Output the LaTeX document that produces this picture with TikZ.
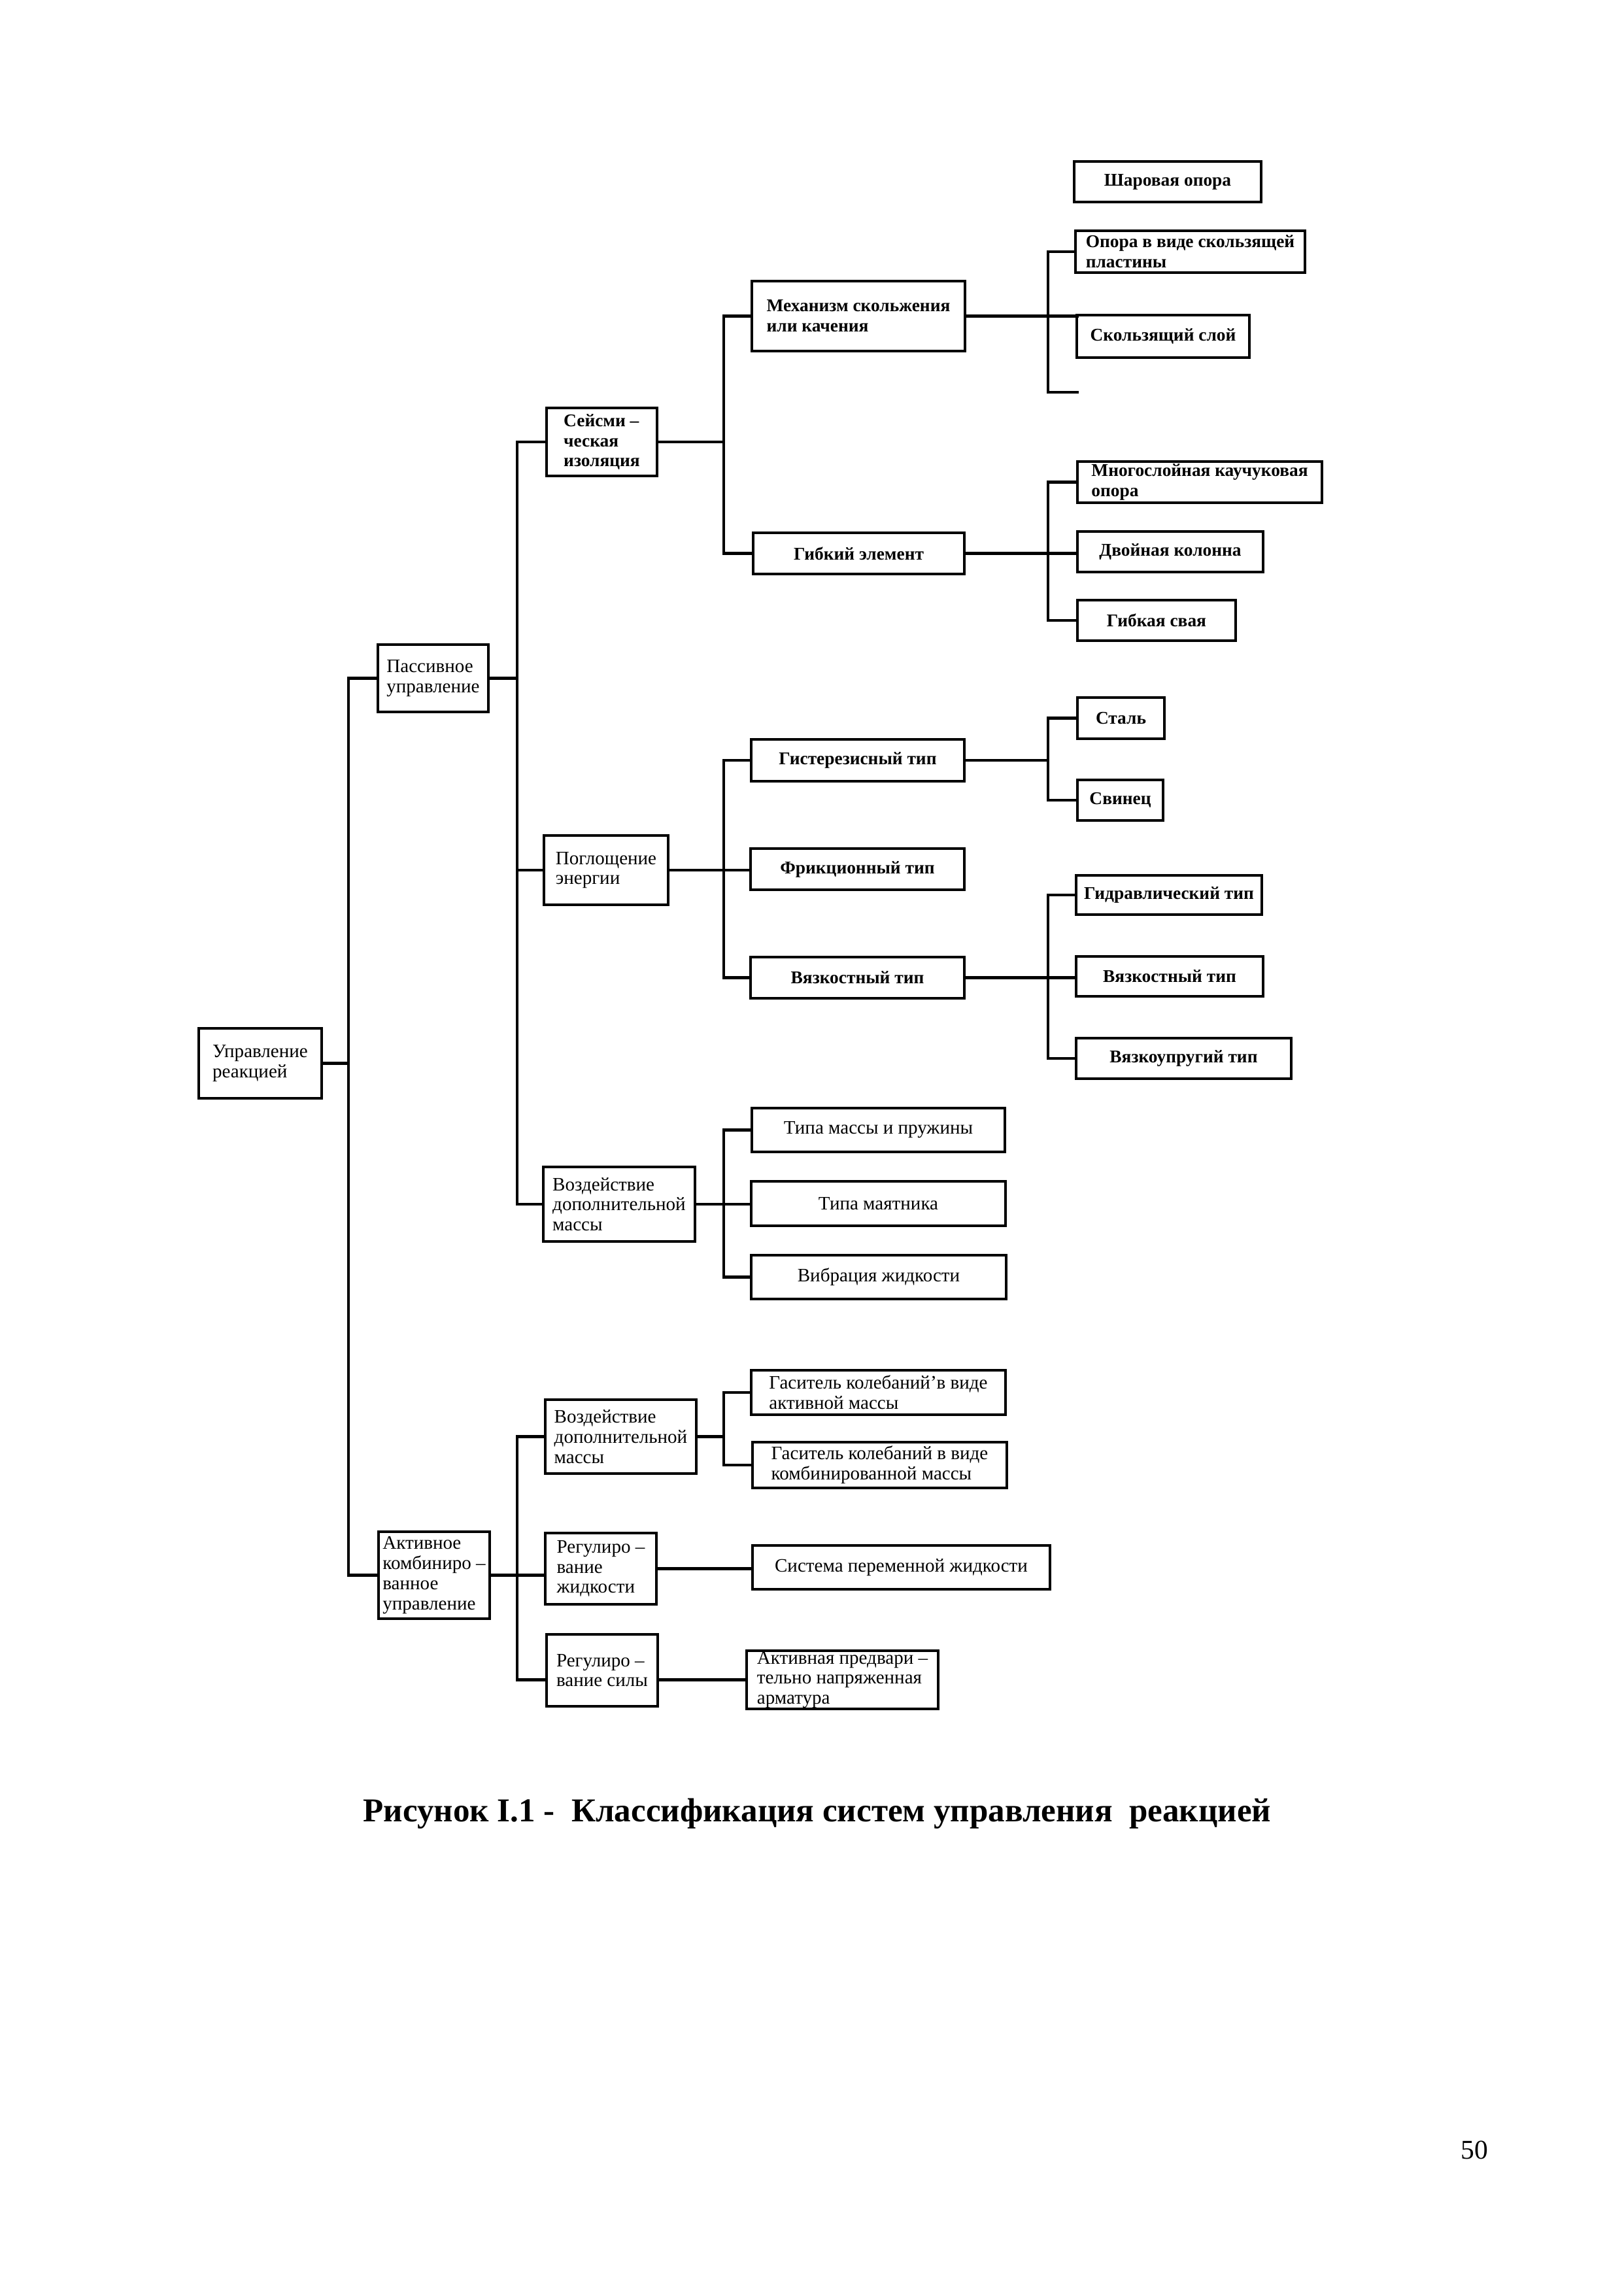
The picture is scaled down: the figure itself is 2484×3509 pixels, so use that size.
\documentclass[tikz,border=0pt]{standalone}
\usepackage{fontspec}
\setmainfont{Liberation Serif}

\begin{document}
\begin{tikzpicture}[x=0.0846667mm,y=-0.0846667mm,
        cell/.style n args={4}{at={({(#1+#3)/2},{(#2+#4)/2})},
            minimum width={(#3-#1)*0.0846667mm},minimum height={(#4-#2)*0.0846667mm}},
        blk/.style={draw,line width=1.1pt,inner sep=0pt,align=left,font=\fontsize{7}{7.4}\selectfont},
        blkb/.style={blk,font=\bfseries\fontsize{6.6}{7.4}\selectfont},
        ln/.style={line width=1.1pt}]
        \useasboundingbox (0,0) rectangle (2484,3509);

        \coordinate (b0) at (533,0);
        \coordinate (b1) at (791,0);
        \coordinate (b2) at (1107,0);
        \coordinate (b3) at (1603,0);
        \coordinate (mechEnd) at (1650,470);
        \coordinate (mechBot) at (1650,600);

        \node[blk,cell={304}{1573}{492}{1680}] (root) {Управление\\реакцией};
        \node[blk,cell={578}{986}{747}{1089}] (pass) {Пассивное\\управление};
        \node[blk,cell={579}{2343}{749}{2476}] (akt) {Активное\\комбиниро –\\ванное\\управление};

        \node[blkb,cell={836}{624}{1005}{728}] (seism) {Сейсми –\\ческая\\изоляция};
        \node[blk,cell={832}{1278}{1022}{1384}] (pogl) {Поглощение\\энергии};
        \node[blk,cell={831}{1785}{1063}{1899}] (vozd) {Воздействие\\дополнительной\\массы};

        \node[blkb,cell={1150}{430}{1476}{537}] (mech) {Механизм скольжения\\или качения};
        \node[blkb,cell={1152}{815}{1475}{878}] (gibel) {Гибкий элемент};
        \node[blkb,cell={1643}{247}{1929}{309}] (shar) {Шаровая опора};
        \node[blkb,cell={1645}{353}{1996}{417}] (oporas) {Опора в виде скользящей\\пластины};
        \node[blkb,cell={1647}{482}{1911}{547}] (slide) {Скользящий слой};
        \node[blkb,cell={1648}{706}{2022}{769}] (mnogo) {Многослойная каучуковая\\опора};
        \node[blkb,cell={1648}{813}{1932}{875}] (dvoin) {Двойная колонна};
        \node[blkb,cell={1648}{918}{1890}{980}] (gsvaya) {Гибкая свая};

        \node[blkb,cell={1149}{1131}{1475}{1195}] (gist) {Гистерезисный тип};
        \node[blkb,cell={1148}{1298}{1475}{1361}] (frik) {Фрикционный тип};
        \node[blkb,cell={1148}{1464}{1475}{1527}] (vyaz) {Вязкостный тип};
        \node[blkb,cell={1648}{1067}{1781}{1130}] (stal) {Сталь};
        \node[blkb,cell={1648}{1193}{1779}{1255}] (svin) {Свинец};
        \node[blkb,cell={1646}{1339}{1930}{1399}] (gidr) {Гидравлический тип};
        \node[blkb,cell={1646}{1463}{1932}{1524}] (vyazb) {Вязкостный тип};
        \node[blkb,cell={1646}{1588}{1975}{1650}] (vupr) {Вязкоупругий тип};

        \node[blk,cell={1150}{1695}{1537}{1762}] (tmass) {Типа массы и пружины};
        \node[blk,cell={1149}{1807}{1538}{1875}] (tmayat) {Типа маятника};
        \node[blk,cell={1149}{1920}{1539}{1987}] (vibr) {Вибрация жидкости};

        \node[blk,cell={834}{2141}{1065}{2254}] (vozdb) {Воздействие\\дополнительной\\массы};
        \node[blk,cell={1149}{2096}{1538}{2164}] (gasa) {Гаситель колебаний’в виде\\активной массы};
        \node[blk,cell={1151}{2206}{1540}{2276}] (gasb) {Гаситель колебаний в виде\\комбинированной массы};
        \node[blk,cell={834}{2345}{1004}{2454}] (regzh) {Регулиро –\\вание\\жидкости};
        \node[blk,cell={1151}{2364}{1606}{2431}] (sist) {Система переменной жидкости};
        \node[blk,cell={836}{2500}{1006}{2610}] (regs) {Регулиро –\\вание силы};
        \node[blk,cell={1142}{2525}{1435}{2614}] (aktp) {Активная предвари –\\тельно напряженная\\арматура};

        % level 1
        \draw[ln] (root.east) -- (root.east -| b0);
        \draw[ln] (pass.west) -| (b0 |- akt.west) -- (akt.west);

        % passive
        \draw[ln] (pass.east) -- (pass.east -| b1);
        \draw[ln] (seism.west) -| (b1 |- vozd.west) -- (vozd.west);
        \draw[ln] (b1 |- pogl.west) -- (pogl.west);

        \draw[ln] (seism.east) -- (seism.east -| b2);
        \draw[ln] (mech.west) -| (b2 |- gibel.west) -- (gibel.west);
        \draw[ln] (mech.east) -- (mech.east -| mechEnd);
        \draw[ln] (oporas.west) -| (b3 |- mechBot) -- (mechBot);
        \draw[ln] (gibel.east) -- (dvoin.west |- gibel.east);
        \draw[ln] (mnogo.west) -| (b3 |- gsvaya.west) -- (gsvaya.west);

        \draw[ln] (pogl.east) -- (frik.west |- pogl.east);
        \draw[ln] (gist.west) -| (b2 |- vyaz.west) -- (vyaz.west);
        \draw[ln] (gist.east) -- (gist.east -| b3);
        \draw[ln] (stal.west) -| (b3 |- svin.west) -- (svin.west);
        \draw[ln] (vyaz.east) -- (vyazb.west |- vyaz.east);
        \draw[ln] (gidr.west) -| (b3 |- vupr.west) -- (vupr.west);

        \draw[ln] (vozd.east) -- (tmayat.west |- vozd.east);
        \draw[ln] (tmass.west) -| (b2 |- vibr.west) -- (vibr.west);

        % active
        \draw[ln] (akt.east) -- (regzh.west |- akt.east);
        \draw[ln] (vozdb.west) -| (b1 |- aktp.west) -- (regs.west |- aktp.west);
        \draw[ln] (vozdb.east) -- (vozdb.east -| b2);
        \draw[ln] (gasa.west) -| (b2 |- gasb.west) -- (gasb.west);
        \draw[ln] (regzh.east) -- (sist.west |- regzh.east);
        \draw[ln] (regs.east |- aktp.west) -- (aktp.west);

        \node[anchor=base,font=\bfseries\fontsize{12.3}{15}\selectfont] (caption) at (1250,2786)
            {Рисунок I.1 -\ \ Классификация систем управления\ \ реакцией};
        \node[anchor=base,font=\fontsize{10}{12}\selectfont] (pagenum) at (2255,3302) {50};
\end{tikzpicture}
\end{document}
